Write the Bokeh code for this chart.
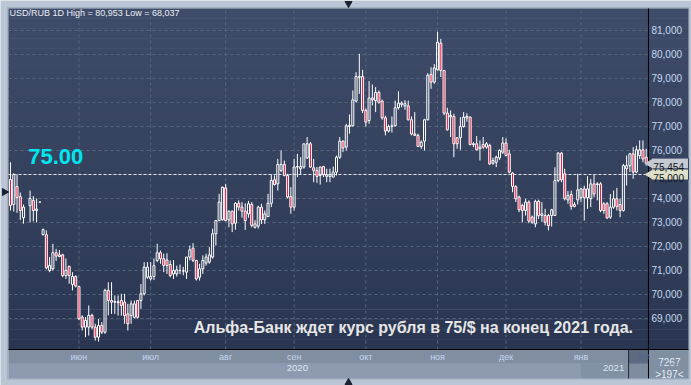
import math
from bokeh.plotting import figure
from bokeh.core.properties import value
from bokeh.models import (FixedTicker, LinearAxis, Range1d, Label,
                          BoxAnnotation, ColumnDataSource)
from bokeh.embed import file_html
from bokeh.resources import INLINE

# ---------------- data (daily USD/RUB candles) -------------
opens = [
    74.79, 73.75, 74.50, 74.08, 73.20, None, 73.70, 73.92, 73.50, 73.85,
    72.50, 72.49, 71.00, 71.07, 71.74, 71.58, 71.65, 70.79, 71.17, 70.42,
    70.75, 70.33, 69.06, 68.64, 68.64, 69.13, 68.64, 68.22, 68.71, 68.43,
    70.17, 69.75, 69.68, 69.66, 69.75, 69.68, 69.19, 69.12, 69.05, 69.75,
    69.75, 70.03, 70.72, 70.65, 70.75, 71.42, 71.74, 71.49, 71.44, 71.25,
    70.86, 70.86, 71.00, 70.98, 70.93, 71.56, 71.93, 71.42, 70.72, 71.07,
    71.31, 71.35, 71.56, 72.53, 73.08, 73.11, 74.44, 73.11, 73.47, 72.97,
    73.80, 73.64, 73.47, 73.36, 73.75, 72.80, 72.85, 73.64, 73.11, 73.25,
    73.80, 74.78, 74.61, 75.17, 75.42, 74.96, 74.08, 73.64, 75.31, 75.24,
    75.31, 75.69, 76.28, 75.28, 75.17, 74.96, 75.33, 74.92, 74.92, 74.89,
    75.10, 75.72, 76.39, 76.14, 77.00, 77.03, 78.06, 79.05, 79.08, 77.67,
    77.25, 78.19, 78.08, 78.42, 78.06, 77.36, 76.81, 77.00, 77.03, 77.78,
    77.97, 77.86, 77.86, 77.28, 76.69, 76.63, 76.17, 76.39, 77.28, 79.17,
    78.85, 79.36, 80.47, 79.33, 77.56, 77.40, 77.42, 76.53, 76.53, 77.00,
    77.36, 77.39, 76.25, 76.28, 76.07, 76.25, 76.14, 76.21, 75.47, 75.51,
    75.69, 75.93, 76.31, 75.86, 75.06, 74.50, 74.06, 73.71, 73.50, 73.85,
    73.22, 72.94, 73.88, 73.29, 73.29, 73.29, 73.29, 73.29, 74.75, 75.89,
    75.03, 73.94, 74.17, 73.75, 73.94, 74.03, 74.40, 74.03, 73.99, 74.61,
    74.58, 74.61, 73.78, 73.78, 73.22, 73.64, 73.99, 73.75, 73.50, 75.24,
    75.37, 75.86, 75.10, 75.79, 76.03, 75.72,
]
highs = [
    75.51, 75.05, 75.00, 74.25, 73.75, None, 74.33, 74.10, 74.00, 73.85,
    72.75, 72.67, 71.56, 72.11, 71.90, 71.85, 71.70, 71.50, 71.20, 70.93,
    70.80, 70.37, 69.13, 69.06, 69.54, 69.20, 68.78, 68.98, 68.85, 70.24,
    70.51, 70.51, 69.96, 69.96, 70.03, 70.03, 69.61, 69.75, 69.75, 69.78,
    70.44, 71.35, 71.35, 71.35, 71.50, 72.11, 71.83, 71.70, 71.72, 71.42,
    71.44, 71.20, 71.25, 71.15, 71.56, 72.04, 72.14, 71.44, 71.28, 71.63,
    71.70, 71.97, 72.74, 73.10, 74.19, 74.50, 74.61, 73.50, 73.50, 73.85,
    73.92, 73.85, 73.80, 73.90, 73.85, 73.10, 73.70, 73.78, 73.50, 74.19,
    75.00, 74.96, 75.65, 76.00, 75.58, 75.03, 74.47, 75.65, 75.86, 75.72,
    76.28, 76.56, 76.35, 75.65, 75.31, 75.33, 75.36, 75.24, 75.24, 75.33,
    75.79, 76.56, 76.42, 77.11, 77.50, 78.50, 79.26, 80.03, 79.36, 77.75,
    78.89, 78.75, 78.64, 78.50, 78.12, 77.45, 77.08, 77.42, 78.08, 78.47,
    78.05, 78.10, 78.08, 77.42, 77.60, 76.70, 76.42, 77.32, 79.22, 79.47,
    79.60, 80.953, 80.65, 79.36, 77.78, 77.67, 77.53, 76.56, 77.39, 77.60,
    77.55, 77.42, 76.35, 76.60, 76.42, 76.56, 76.35, 76.28, 75.70, 75.79,
    76.05, 76.56, 76.50, 76.03, 75.10, 74.55, 74.12, 73.78, 73.99, 73.92,
    73.29, 73.95, 73.95, 73.85, 73.57, 73.36, 73.57, 75.30, 75.93, 75.93,
    75.24, 74.31, 74.33, 73.85, 75.03, 74.44, 74.53, 74.93, 74.82, 75.00,
    74.68, 74.68, 73.85, 73.85, 74.19, 74.33, 74.44, 74.00, 75.44, 75.79,
    75.90, 76.14, 76.20, 76.42, 76.42, 76.07,
]
lows = [
    73.50, 73.45, 73.40, 73.10, 72.95, None, 73.00, 73.05, 73.00, 73.85,
    72.45, 71.05, 70.93, 71.00, 71.40, 71.55, 70.72, 70.65, 70.45, 70.17,
    70.30, 68.93, 68.50, 68.22, 68.29, 68.55, 68.08, 68.037, 68.35, 68.36,
    69.13, 69.19, 69.19, 69.12, 69.12, 68.78, 68.50, 68.78, 69.00, 69.00,
    69.40, 69.96, 70.65, 70.58, 70.60, 71.35, 71.28, 70.93, 70.86, 70.72,
    70.65, 70.75, 70.85, 70.80, 70.65, 71.42, 71.35, 70.58, 70.58, 70.86,
    71.20, 71.28, 71.49, 72.04, 73.05, 73.08, 73.05, 72.80, 72.60, 72.70,
    73.50, 73.20, 72.69, 73.20, 72.80, 72.75, 72.75, 72.94, 72.94, 73.22,
    73.64, 74.54, 74.33, 75.10, 74.92, 74.00, 73.36, 73.50, 74.89, 75.00,
    75.24, 75.65, 75.28, 74.68, 74.65, 74.58, 74.89, 74.68, 74.68, 74.89,
    74.96, 75.65, 75.93, 76.00, 76.70, 77.00, 78.00, 78.36, 77.56, 77.00,
    77.11, 77.88, 77.60, 77.95, 77.28, 76.63, 76.75, 76.75, 77.00, 77.70,
    77.80, 77.70, 77.25, 76.63, 76.60, 76.14, 76.07, 76.00, 77.25, 78.57,
    78.78, 79.33, 79.06, 77.47, 76.83, 76.56, 75.72, 76.07, 76.03, 76.95,
    77.20, 76.21, 76.14, 76.00, 75.58, 76.07, 76.07, 75.40, 75.40, 75.31,
    75.60, 75.86, 75.75, 75.05, 74.26, 73.85, 73.43, 73.00, 73.29, 72.97,
    72.94, 72.80, 73.15, 73.03, 72.875, 72.67, 72.83, 73.29, 74.68, 74.68,
    73.92, 73.78, 73.53, 73.63, 73.75, 73.85, 73.08, 73.57, 73.64, 74.05,
    73.92, 73.43, 73.36, 73.15, 73.15, 73.57, 73.50, 73.22, 73.45, 74.54,
    75.10, 74.82, 75.05, 75.65, 75.51, 75.37,
]
closes = [
    73.71, 75.00, 74.04, 73.50, 73.64, None, 74.00, 73.50, 73.56, 73.85,
    72.70, 71.11, 71.21, 71.74, 71.60, 71.65, 70.79, 71.00, 70.79, 70.75,
    70.35, 68.99, 68.64, 68.92, 69.13, 68.64, 68.22, 68.71, 68.43, 70.17,
    69.75, 69.68, 69.70, 69.70, 69.54, 69.12, 68.78, 69.61, 69.61, 69.05,
    70.03, 71.14, 71.14, 70.75, 71.20, 71.74, 71.49, 71.21, 71.21, 70.79,
    71.00, 71.03, 71.00, 70.98, 71.56, 71.86, 71.42, 70.65, 71.07, 71.42,
    71.56, 71.65, 72.53, 73.08, 73.85, 74.47, 73.08, 73.47, 72.94, 73.80,
    73.64, 73.47, 73.08, 73.78, 72.88, 72.94, 73.64, 73.11, 73.36, 73.80,
    74.75, 74.58, 75.42, 75.42, 74.96, 74.06, 73.64, 75.31, 75.33, 75.33,
    76.28, 76.28, 75.31, 75.17, 74.92, 75.31, 74.99, 74.99, 75.00, 75.10,
    75.72, 76.39, 76.11, 77.03, 77.05, 78.11, 79.08, 79.08, 77.67, 77.18,
    78.19, 78.11, 78.42, 78.01, 77.36, 76.81, 77.00, 77.03, 77.78, 77.97,
    77.92, 77.95, 77.28, 76.69, 76.63, 76.17, 76.35, 77.28, 79.13, 78.85,
    79.44, 80.51, 79.33, 77.56, 76.86, 77.46, 76.28, 76.28, 77.00, 77.39,
    77.42, 76.25, 76.28, 76.03, 76.14, 76.14, 76.28, 75.44, 75.58, 75.72,
    76.00, 76.31, 75.79, 75.10, 74.50, 73.99, 73.53, 73.50, 73.85, 73.06,
    73.01, 73.88, 73.29, 73.36, 73.01, 72.87, 73.53, 74.75, 75.89, 74.78,
    73.99, 74.12, 73.67, 73.67, 74.36, 74.40, 74.03, 74.40, 74.61, 74.19,
    74.61, 73.50, 73.50, 73.19, 73.64, 73.99, 73.67, 73.50, 75.37, 75.37,
    75.86, 75.10, 76.03, 76.03, 75.65, 75.454,
]

month_ticks = [21, 43, 66, 87, 109, 131, 152, 175]
month_labels = ["июн", "июл", "авг", "сен", "окт", "ноя", "дек", "янв"]
year_ticks = [88, 185]
year_labels = ["2020", "2021"]
price_ticks = [69, 70, 71, 72, 73, 74, 76, 77, 78, 79, 80, 81]
price_labels = ["69,000", "70,000", "71,000", "72,000", "73,000", "74,000",
                "76,000", "77,000", "78,000", "79,000", "80,000", "81,000"]
tag_prices = [75.454, 75.0]
tag_labels = ["75,454", "75,000"]
level_price = 75.0
level_text = "75.00"
header_text = "USD/RUB 1D High = 80,953 Low = 68,037"
note_text = "Альфа-Банк ждет курс рубля в 75/$ на конец 2021 года."
corner_texts = ["7267", ">197<"]
next_month_stub = "фе"

# ---------------- sources ----------------
rows = [(i, o, h, l, c) for i, (o, h, l, c)
        in enumerate(zip(opens, highs, lows, closes)) if o is not None]


def make_source(sel):
    return ColumnDataSource(dict(
        x=[r[0] for r in sel],
        top=[max(r[1], r[4]) for r in sel],
        bottom=[min(r[1], r[4]) for r in sel],
        high=[r[2] for r in sel],
        low=[r[3] for r in sel],
    ))


up_src = make_source([r for r in rows if r[4] >= r[1]])
down_src = make_source([r for r in rows if r[4] < r[1]])

# ---------------- layout constants (whole window is the frame) ----------------
FONT = "Liberation Sans"
PX_X = 1 / 3.26                        # one pixel in slot units
PX_Y = 1 / 24.0                        # one pixel in price units
XA0, XA1 = -3.067, 208.896             # window edges
YA0, YA1 = 66.208, 82.25
X_LO, X_HI = -0.613, 207.975           # dark panel
Y_LO, Y_HI = 66.5, 81.917
X_EDGE = 195.7                         # right end of the candle area
Y_EDGE = 67.708                        # bottom of the candle area
Y_ROW = 67.125                         # month row / year row split
X_YEAR_SPLIT = 174.85                  # end of the light year band
X_STUB = 189.6                         # start of the clipped next-month cell
X_TAG = 196.63                         # left side of the price tags
X_TEXT = 197.2                         # left side of price strip texts
X_CORNER = 202.1                       # centre of the corner counters
X_MID = 103.7                          # centre of the window (frame arrows)
Y_LEFT_ARROW = 74.27
Y_CORNER = [67.18, 66.67]              # baselines of the corner counters

FRAME_BG = "#bac6d6"

p = figure(width=691, height=385,
           x_range=Range1d(XA0, XA1), y_range=Range1d(YA0, YA1),
           x_axis_location=None, y_axis_location=None,
           output_backend="svg", toolbar_location=None,
           min_border_left=0, min_border_top=0, min_border_right=0,
           min_border_bottom=0,
           background_fill_color=FRAME_BG, border_fill_color=FRAME_BG,
           outline_line_color=None)
p.xgrid.visible = False
p.ygrid.visible = False

# vertical gradient of the chart area and price strip
top_rgb = (63, 76, 105)
bot_rgb = (42, 54, 81)
n_bands = 34
for k in range(n_bands):
    f = (k + 0.5) / n_bands
    col = "#%02x%02x%02x" % tuple(int(round(b + (t - b) * f))
                                  for t, b in zip(top_rgb, bot_rgb))
    p.add_layout(BoxAnnotation(
        left=X_LO, right=X_HI,
        bottom=Y_EDGE + (Y_HI - Y_EDGE) * k / n_bands - 0.01,
        top=min(Y_HI, Y_EDGE + (Y_HI - Y_EDGE) * (k + 1) / n_bands + 0.01),
        fill_color=col, fill_alpha=1.0, line_color=None, level="image"))

# bottom bands
p.add_layout(BoxAnnotation(left=X_LO, bottom=Y_ROW, top=Y_EDGE, right=X_EDGE,
                           fill_color="#2d3a56", line_color=None, level="image"))
p.add_layout(BoxAnnotation(left=X_LO, bottom=Y_LO, top=Y_ROW, right=X_YEAR_SPLIT,
                           fill_color="#4a5876", line_color=None, level="image"))
p.add_layout(BoxAnnotation(bottom=Y_LO, top=Y_ROW, left=X_YEAR_SPLIT, right=X_STUB,
                           fill_color="#33405c", line_color=None, level="image"))
p.add_layout(BoxAnnotation(bottom=Y_LO, top=Y_EDGE, left=X_STUB, right=X_EDGE,
                           fill_color="#28344f", line_color=None, level="image"))
p.add_layout(BoxAnnotation(bottom=Y_LO, top=Y_EDGE, left=X_EDGE, right=X_HI,
                           fill_color="#2e3b57", line_color=None, level="image"))
# thin border round the dark panel
p.add_layout(BoxAnnotation(left=X_LO - PX_X, right=X_HI + 0.5 * PX_X,
                           bottom=Y_LO - 0.5 * PX_Y, top=Y_HI + PX_Y,
                           fill_alpha=0, line_color="#6d798b", line_width=1,
                           level="image"))

# dashed grid inside the candle area
grid_levels = list(range(69, 82))
p.segment(x0=[X_LO] * len(grid_levels), x1=[X_EDGE] * len(grid_levels),
          y0=grid_levels, y1=grid_levels,
          line_color="#59667f", line_dash="3 3", line_width=1)
p.segment(x0=month_ticks, x1=month_ticks,
          y0=[Y_EDGE] * len(month_ticks), y1=[Y_HI] * len(month_ticks),
          line_color="#59667f", line_dash="3 3", line_width=1)

# separators
p.segment(x0=[X_EDGE, X_LO, X_STUB], x1=[X_EDGE, X_HI, X_STUB],
          y0=[Y_LO, Y_EDGE, Y_LO], y1=[Y_HI, Y_EDGE, Y_EDGE],
          line_color=["#000000", "#000000", "#1e2638"], line_width=1)


def style_axis(ax, size, color, standoff):
    ax.major_label_text_font = FONT
    ax.major_label_text_font_size = size
    ax.major_label_text_color = color
    ax.major_label_standoff = standoff
    ax.axis_line_color = None
    ax.major_tick_line_color = None
    ax.minor_tick_line_color = None
    ax.major_tick_out = 0
    ax.minor_tick_out = 0


# axes drawn at fixed locations inside the panel
ya = LinearAxis(fixed_location=X_EDGE, ticker=FixedTicker(ticks=price_ticks),
                major_label_overrides=dict(zip(price_ticks, price_labels)))
style_axis(ya, "10px", "#c6d9f1", 3)
p.add_layout(ya, "right")

xa = LinearAxis(fixed_location=Y_EDGE, ticker=FixedTicker(ticks=month_ticks),
                major_label_overrides=dict(zip(month_ticks, month_labels)))
style_axis(xa, "9px", "#c4d6ee", 2)
p.add_layout(xa, "below")

yr = LinearAxis(fixed_location=Y_ROW, ticker=FixedTicker(ticks=year_ticks),
                major_label_overrides=dict(zip(year_ticks, year_labels)))
style_axis(yr, "9.5px", "#dce6f4", 2)
p.add_layout(yr, "below")

# level line at 75.00
p.segment(x0=[X_LO], x1=[X_EDGE], y0=[level_price], y1=[level_price],
          line_color="#dfe4ea", line_dash="3 2", line_width=1)

# candles
RED = "#e8143c"
for src in (up_src, down_src):
    p.segment(x0="x", y0="top", x1="x", y1="high", source=src,
              line_color="white", line_width=1)
    p.segment(x0="x", y0="low", x1="x", y1="bottom", source=src,
              line_color="white", line_width=1)
p.vbar(x="x", width=0.62, top="top", bottom="bottom", source=up_src,
       fill_alpha=0, line_color="white", line_width=1)
p.vbar(x="x", width=0.62, top="top", bottom="bottom", source=down_src,
       fill_color=RED, line_color="white", line_width=1)

# texts
p.add_layout(Label(x=-0.3, y=81.5, text=header_text, text_font=FONT,
                   text_font_size="9px", text_color="#e8eef6"))
p.add_layout(Label(x=5.43, y=75.446, text=level_text, text_font=FONT,
                   text_font_size="22px", text_font_style="bold",
                   text_color="#00e6f0"))
p.add_layout(Label(x=56.2, y=68.25, text=note_text, text_font=FONT,
                   text_font_size="16px", text_font_style="bold",
                   text_color="#e6e6e6"))

# price tags in the price strip
tag_colors = ["#c5cad2", "#dddfc8"]
tag_src = ColumnDataSource(dict(
    price=tag_prices, color=tag_colors, label=tag_labels,
    bottom=[v - 5.5 * PX_Y for v in tag_prices],
    top=[v + 5.5 * PX_Y for v in tag_prices],
    base=[v - 3.5 * PX_Y for v in tag_prices],
))
p.quad(left=X_TAG, right=X_HI, bottom="bottom", top="top", source=tag_src,
       fill_color="color", line_color="#3a4560", line_width=1)
p.scatter(x=196.3, y="price", marker="triangle", size=9, angle=math.pi / 2,
          fill_color="color", line_color="color", source=tag_src)
p.text(x=X_TEXT, y="base", text="label", source=tag_src,
       text_font=value(FONT), text_font_size=value("10px"),
       text_color="#10141c", text_baseline="alphabetic")

# bottom-right counters and the clipped next-month label
p.text(x=[X_CORNER, X_CORNER], y=Y_CORNER, text=corner_texts,
       text_font=value(FONT), text_font_size=value("10px"),
       text_color="#e4ecf6", text_align="center", text_baseline="alphabetic")
p.segment(x0=[198.8], x1=[206.5], y0=[67.1], y1=[67.1],
          line_color="#8090a8", line_width=1)
p.text(x=[194.2], y=[67.417], text=[next_month_stub],
       text_font=value(FONT), text_font_size=value("9px"),
       text_color="#56668a", text_align="center", text_baseline="middle")

# small arrows on the light frame
p.scatter(x=[X_MID, X_MID, XA0 + 4 * PX_X],
          y=[YA1 - 3 * PX_Y, YA0 + 3 * PX_Y, Y_LEFT_ARROW],
          marker="triangle", size=7,
          angle=[math.pi, 0.0, -math.pi / 2],
          fill_color="#1a2130", line_color="#1a2130")

open("out.html", "w").write(file_html(p, INLINE))
